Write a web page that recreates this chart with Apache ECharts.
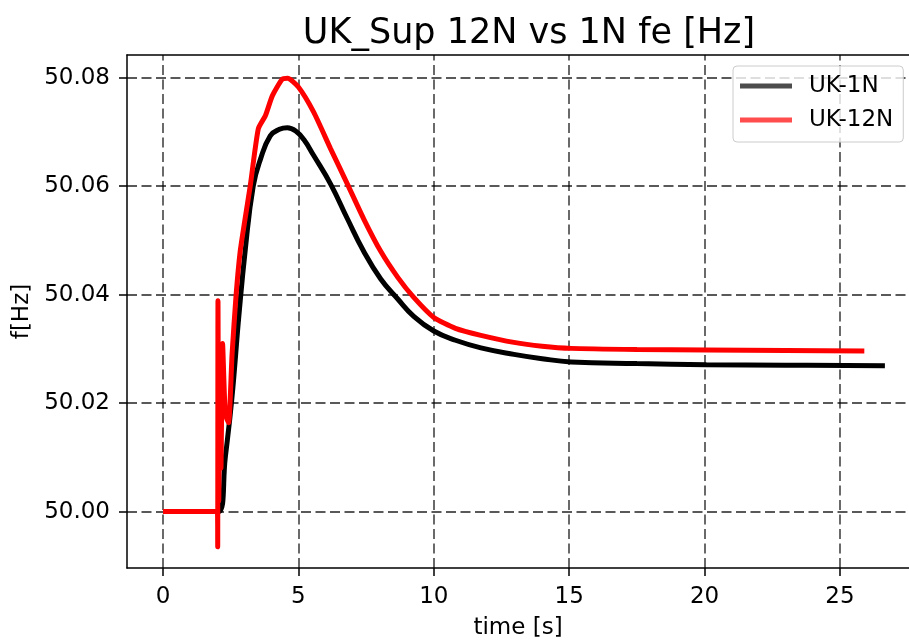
<!DOCTYPE html>
<html>
<head>
<meta charset="utf-8">
<title>UK_Sup 12N vs 1N fe [Hz]</title>
<script src="https://cdn.jsdelivr.net/npm/echarts@6/dist/echarts.min.js"></script>
<style>
html, body { margin: 0; padding: 0; background: #fff; }
#main { width: 909px; height: 641px; }
</style>
</head>
<body>
<div id="main"></div>
<script>
// tick labels
var xTicks = [0, 5, 10, 15, 20, 25];
var yTicks = [50.00, 50.02, 50.04, 50.06, 50.08];
var seriesNames = ['UK-1N', 'UK-12N'];

// UK-1N  (time [s] / f [Hz])
var time1N = [0, 2.05, 2.3, 2.54, 2.8, 3.04, 3.33, 3.6, 3.96, 4.3, 4.59, 4.9, 5.2, 5.56, 6.19, 6.81, 7.41, 8.04, 8.67, 9.26, 10.0, 10.8, 11.74, 12.96, 14.0, 15.07, 17.5, 20.07, 23.0, 26.66];
var freq1N = [50.000, 50.000, 50.010, 50.0207, 50.036, 50.0484, 50.060, 50.065, 50.0693, 50.0705, 50.0708, 50.0702, 50.0686, 50.0657, 50.0604, 50.054, 50.048, 50.0429, 50.0392, 50.0360, 50.0333, 50.0316, 50.0302, 50.0290, 50.0282, 50.0276, 50.0273, 50.0271, 50.0270, 50.0269];

// UK-12N
var time12N = [0, 2.01, 2.02, 2.03, 2.06, 2.10, 2.14, 2.2, 2.3, 2.42, 2.55, 2.7, 2.85, 3.0, 3.22, 3.52, 3.78, 4.04, 4.4, 4.6, 5.0, 5.56, 6.19, 6.81, 7.41, 8.04, 8.67, 9.26, 10.0, 10.8, 11.74, 12.96, 14.0, 15.07, 17.5, 20.07, 23.0, 25.9];
var freq12N = [50.000, 50.000, 49.9935, 50.0389, 50.002, 50.026, 50.008, 50.031, 50.018, 50.0164, 50.029, 50.040, 50.048, 50.053, 50.060, 50.0706, 50.073, 50.0767, 50.0797, 50.0799, 50.0783, 50.0737, 50.0669, 50.0604, 50.054, 50.048, 50.0432, 50.0395, 50.0358, 50.0338, 50.0325, 50.0312, 50.0305, 50.0301, 50.0299, 50.0298, 50.0297, 50.0296];

var FONT = 'DejaVu Sans';

function pairs(t, f) {
    var out = [];
    for (var i = 0; i < t.length; i++) {
        out.push([t[i], f[i]]);
    }
    return out;
}

var gridStyle = { color: 'rgba(0,0,0,0.65)', width: 1.8, type: [10, 4.5] };
var spine = { show: true, onZero: false, lineStyle: { color: '#000', width: 1.5 } };

// vertical grid lines only at the labelled ticks
var xGrid = [];
for (var i = 0; i < xTicks.length; i++) {
    xGrid.push({ xAxis: xTicks[i] });
}

var myChart = echarts.init(document.getElementById('main'));

myChart.setOption({
    animation: false,
    backgroundColor: '#fff',
    title: {
        text: 'UK_Sup 12N vs 1N fe [Hz]',
        left: 524,
        top: 11,
        textAlign: 'center',
        textStyle: { fontFamily: FONT, fontSize: 35, fontWeight: 'normal', color: '#000' }
    },
    grid: {
        left: 127,
        right: 0,
        top: 55,
        bottom: 73,
        outerBoundsMode: 'none'
    },
    legend: {
        orient: 'vertical',
        left: 733,
        top: 66,
        icon: 'rect',
        itemWidth: 52,
        itemHeight: 5,
        itemGap: 10,
        padding: [8, 10, 10, 7],
        backgroundColor: 'rgba(255,255,255,0.8)',
        borderColor: '#cccccc',
        borderWidth: 1,
        borderRadius: 4,
        textStyle: { fontFamily: FONT, fontSize: 23, color: '#000', lineHeight: 24, padding: [0, 0, 0, 12] },
        data: [
            { name: seriesNames[0], itemStyle: { color: '#4d4d4d' } },
            { name: seriesNames[1], itemStyle: { color: '#ff4d4d' } }
        ]
    },
    xAxis: [
        {
            type: 'value',
            min: -1.33,
            max: 27.55,
            name: 'time [s]',
            nameLocation: 'middle',
            nameGap: 49,
            nameTextStyle: { fontFamily: FONT, fontSize: 23, color: '#000' },
            axisLine: spine,
            axisTick: { show: true, length: 8, customValues: xTicks, lineStyle: { color: '#000', width: 1.5 } },
            axisLabel: { customValues: xTicks, margin: 18, fontFamily: FONT, fontSize: 23, color: '#000' },
            splitLine: { show: false }
        },
        {
            // top spine only
            type: 'value',
            position: 'top',
            min: -1.33,
            max: 27.55,
            axisLine: spine,
            axisTick: { show: false },
            axisLabel: { show: false },
            splitLine: { show: false }
        }
    ],
    yAxis: {
        type: 'value',
        min: 49.9896,
        max: 50.0842,
        name: 'f[Hz]',
        nameLocation: 'middle',
        nameGap: 93,
        nameTextStyle: { fontFamily: FONT, fontSize: 23, color: '#000' },
        axisLine: spine,
        axisTick: { show: true, length: 8, customValues: yTicks, lineStyle: { color: '#000', width: 1.5 } },
        axisLabel: {
            customValues: yTicks,
            margin: 17,
            fontFamily: FONT,
            fontSize: 23,
            color: '#000',
            formatter: function (v) { return v.toFixed(2); }
        },
        splitLine: { show: true, lineStyle: gridStyle }
    },
    series: [
        {
            name: seriesNames[0],
            type: 'line',
            data: pairs(time1N, freq1N),
            showSymbol: false,
            smooth: 0.45,
            lineStyle: { color: '#000', width: 5 },
            itemStyle: { color: '#000' },
            markLine: {
                silent: true,
                z: 1,
                symbol: ['none', 'none'],
                label: { show: false },
                lineStyle: gridStyle,
                emphasis: { disabled: true },
                data: xGrid
            }
        },
        {
            name: seriesNames[1],
            type: 'line',
            data: pairs(time12N, freq12N),
            showSymbol: false,
            smooth: 0.2,
            lineStyle: { color: '#ff0000', width: 5 },
            itemStyle: { color: '#ff0000' }
        }
    ]
});
</script>
</body>
</html>
